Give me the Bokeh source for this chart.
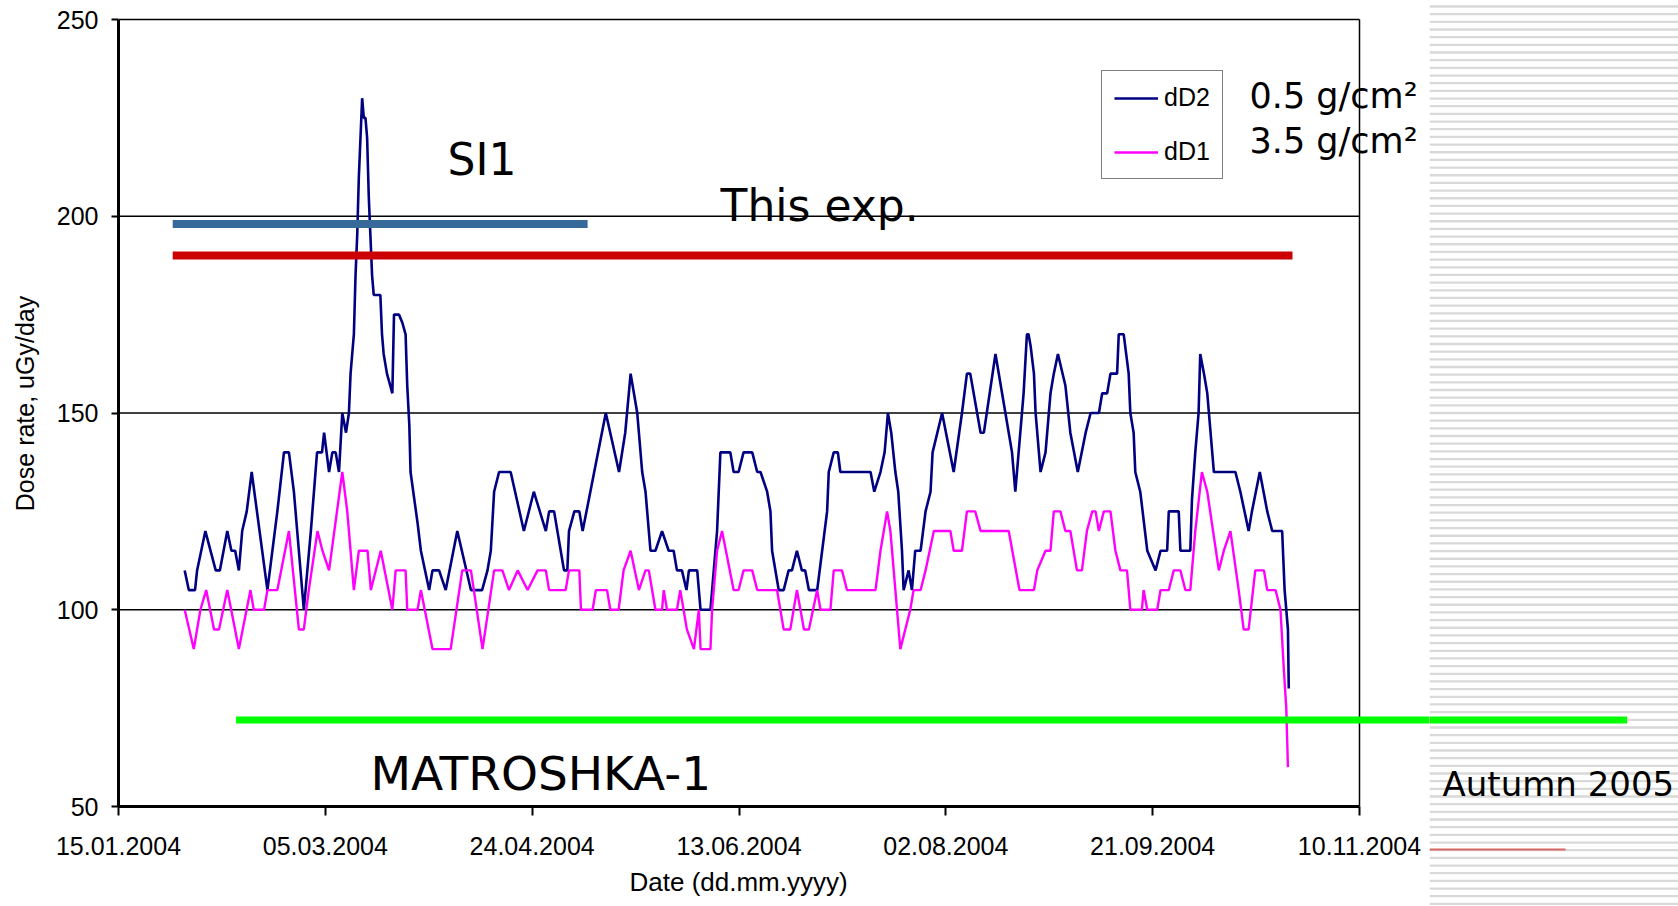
from bokeh.plotting import figure
from bokeh.layouts import row
from bokeh.models import (Range1d, FixedTicker, Legend, LegendItem, Label, Title)
from bokeh.embed import file_html
from bokeh.resources import INLINE

# ---------------- data ----------------
# x = days since 15.01.2004
x_tick_days = [0, 50, 100, 150, 200, 250, 300]
x_tick_labels = ["15.01.2004", "05.03.2004", "24.04.2004", "13.06.2004",
                 "02.08.2004", "21.09.2004", "10.11.2004"]
y_ticks = [50, 100, 150, 200, 250]
grid_levels = [100, 150, 200, 250]

dD2_day = [16, 17, 18.5, 19, 21, 23.5, 24.5, 26.3, 27.3, 28.2, 29.1, 29.9, 31, 32.2,
           36, 38.4, 40, 41.2, 42.4, 44.8, 46.5, 48, 49.2, 49.7, 50.9, 51.7, 52.5,
           53.3, 54.1, 55, 55.7, 56.1, 56.5, 56.9, 57.3, 57.7, 58.1, 58.5, 58.9,
           59.3, 59.7, 60.1, 60.5, 60.9, 61.3, 61.7, 63.3, 63.7, 64.1, 64.9, 66.2,
           66.6, 67.8, 68.6, 69.4, 69.8, 70.3, 70.6, 72.3, 73.1, 75.1, 75.9, 77.5,
           79.1, 81.9, 85.2, 86.3, 87.9, 89.2, 90.0, 90.8, 92.0, 94.8, 98.0, 100.4,
           103.3, 104.1, 105.3, 106.9, 107.7, 108.5, 108.9, 110.2, 111.4, 112.2,
           115.0, 117.8, 121.0, 122.5, 123.8, 124.6, 125.4, 126.6, 127.4, 128.6,
           129.8, 131.4, 133, 134.2, 135, 136.2, 137.3, 137.9, 139.9, 140.7, 143.1,
           144.7, 145.5, 147.9, 148.7, 149.9, 151.1, 153.2, 154.4, 155.2, 156.8,
           157.6, 158, 159.6, 160.8, 162, 162.8, 164, 165.2, 166, 166.9, 168.9,
           170.1, 171.3, 171.7, 172.9, 173.9, 174.5, 181.8, 182.7, 184.2, 185.2,
           186, 186.8, 187.8, 188.5, 189.4, 189.8, 191, 191.8, 192.6, 193.9, 195.1,
           196.3, 196.8, 199.1, 201.9, 203.9, 205.1, 205.9, 208.4, 209.2, 212,
           214.4, 216, 216.8, 217.6, 218.8, 219.6, 220, 220.5, 221.3, 221.7, 222.9,
           224.1, 225.3, 226.1, 227.1, 228.9, 230.1, 231.9, 233.8, 235, 237, 237.8,
           239, 239.8, 241.4, 241.8, 243, 244.2, 244.6, 245.4, 245.8, 247, 248.7,
           250.7, 251.9, 253.5, 253.9, 256.3, 256.7, 259.1, 259.5, 260.3, 261.1,
           261.5, 262.4, 263.2, 264.8, 270, 271.2, 273.2, 274, 275.9, 277.7, 278.9,
           281.3, 281.9, 282.7, 282.9]
dD2_val = [110, 105, 105, 110, 120, 110, 110, 120, 115, 115, 110, 120, 125, 135,
           105, 125, 140, 140, 130, 100, 120, 140, 140, 145, 135, 140, 140,
           135, 150, 145, 150, 160, 165, 170, 185, 195, 210, 220, 230,
           225, 225, 220, 205, 195, 185, 180, 180, 170, 165, 160, 155,
           175, 175, 173, 170, 157, 147, 135, 122, 115, 105, 110, 110,
           105, 120, 105, 105, 105, 110, 115, 130, 135, 135, 120, 130,
           120, 125, 125, 115, 110, 110, 120, 125, 125, 120,
           135, 150, 135, 145, 160, 155, 150, 135, 130, 115,
           115, 120, 115, 115, 110, 110, 105, 110, 110, 100, 100,
           120, 140, 140, 135, 135, 140, 140, 135, 135, 130,
           125, 115, 105, 105, 110, 110, 115, 110, 110, 105, 105,
           115, 125, 135, 140, 140, 135, 135, 130, 135, 140,
           150, 145, 135, 130, 115, 105, 110, 105, 115, 115, 125,
           130, 140, 150, 135, 150, 160, 160, 145, 145, 165,
           150, 140, 130, 140, 155, 170, 170, 167, 160, 150, 135,
           140, 155, 160, 165, 157, 145, 135, 145, 150, 150, 155,
           155, 160, 160, 170, 170, 160, 150, 145, 135, 130, 115,
           110, 115, 115, 125, 125, 115, 115, 128, 140, 150,
           165, 160, 155, 135, 135, 130, 120, 125, 135, 125, 120,
           120, 105, 95, 80]

dD1_day = [16, 18.2, 19.8, 21.2, 23.1, 24.3, 26.3, 29.1, 31.9, 32.7, 35.2, 36, 38.4,
           41.2, 43.6, 44.8, 46, 48.1, 49.3, 50.9, 54.1, 55.3, 56.9, 58.1, 60.2, 61,
           63.4, 66.2, 67, 69.4, 69.8, 72.3, 73.1, 75.9, 80.3, 83.1, 85.2, 88, 90.8,
           92.8, 94.4, 96.5, 98.9, 101.3, 103.3, 104.1, 108.1, 108.9, 111.4, 111.8,
           114.6, 115.4, 118.1, 118.9, 120.9, 122.1, 123.8, 125.8, 127.4, 128.2,
           129.8, 131.4, 131.8, 132.6, 135, 135.8, 136.6, 137.4, 139.1, 140.3, 140.7,
           143.1, 143.5, 144.7, 145.9, 148.7, 149.9, 151.1, 153.2, 154.4, 159.2,
           160.8, 162.4, 164, 165.7, 166.9, 168.9, 169.7, 172.1, 172.9, 174.9, 176.1,
           183, 184.2, 185.8, 186.6, 189, 191.4, 192.2, 193.9, 195.1, 197.1, 201.1,
           201.9, 203.9, 205.1, 207.1, 208.4, 215.2, 217.8, 221.3, 222.1, 224.1,
           225.3, 226.1, 227.7, 228.9, 230.1, 231.7, 232.9, 234.1, 235.4, 236.2, 237,
           238.2, 239.8, 241, 242.2, 243.8, 244.6, 247.4, 247.8, 248.7, 251.1, 251.9,
           253.9, 255.1, 256.7, 257.9, 259.1, 260.3, 261.9, 263.2, 266, 267.2, 268.8,
           270.8, 272, 273.2, 274.8, 276.9, 277.7, 279.7, 280.9, 281.7, 282.3, 282.7]
dD1_val = [100, 90, 100, 105, 95, 95, 105, 90, 105, 100, 100, 105, 105,
           120, 95, 95, 105, 120, 115, 110, 135, 125, 105, 115, 115, 105,
           115, 100, 110, 110, 100, 100, 105, 90, 90, 110, 110, 90, 110,
           110, 105, 110, 105, 110, 110, 105, 105, 110, 110, 100,
           100, 105, 105, 100, 100, 110, 115, 105, 110, 110,
           100, 100, 105, 100, 100, 105, 100, 95, 90, 100, 90,
           90, 100, 115, 120, 105, 105, 110, 110, 105, 105,
           95, 95, 105, 95, 95, 105, 100, 100, 110, 110, 105,
           105, 115, 125, 120, 90, 100, 105, 105, 110, 120, 120,
           115, 115, 125, 125, 120, 120, 105, 105, 110, 115,
           115, 125, 125, 120, 120, 110, 110, 120, 125, 125, 120,
           125, 125, 115, 110, 110, 100, 100, 105, 100, 100, 105,
           105, 110, 110, 105, 105, 120, 135, 130, 110, 115, 120,
           105, 95, 95, 110, 110, 105, 105, 100, 85, 75, 60]

# reference levels drawn over the chart
ref_names = ["SI1", "This exp.", "MATROSHKA-1"]
ref_level = [198, 190, 72]
ref_start = [13.1, 13.1, 28.4]
ref_end = [113.4, 283.8, 364.7]

# ---------------- layout ----------------
W, H = 1678, 906
FL, FR, FT, FB = 118, 1359, 19, 806     # plot box of the chart
SPLIT = 1429                             # start of the striped slide panel
XPX = (FR - FL) / 300.0
YPX = (FB - FT) / 200.0


def dx(px):
    return (px - FL) / XPX


def dy(py):
    return 250.0 - (py - FT) / YPX


TICK_FONT = "Liberation Sans"
COMIC = "DejaVu Sans"

p = figure(width=SPLIT, height=H, x_range=Range1d(0, dx(SPLIT)),
           y_range=Range1d(50, dy(0)),
           output_backend="svg", toolbar_location=None,
           min_border_left=FL, min_border_right=0,
           min_border_top=0, min_border_bottom=H - FB)
p.background_fill_color = "white"
p.border_fill_color = "white"
p.outline_line_color = None

p.xaxis.ticker = FixedTicker(ticks=x_tick_days)
p.xaxis.major_label_overrides = {d: s for d, s in zip(x_tick_days, x_tick_labels)}
p.yaxis.ticker = FixedTicker(ticks=y_ticks)
p.xaxis.bounds = (x_tick_days[0], x_tick_days[-1])
p.yaxis.bounds = (y_ticks[0], y_ticks[-1])
for ax in (p.xaxis[0], p.yaxis[0]):
    ax.axis_line_width = 3
    ax.axis_line_color = "black"
    ax.major_tick_line_width = 2
    ax.major_tick_line_color = "black"
    ax.major_tick_in = 0
    ax.minor_tick_line_color = None
    ax.major_label_text_font = TICK_FONT
    ax.major_label_text_font_size = "25px"
    ax.major_label_text_color = "black"
    ax.axis_label_text_font = TICK_FONT
    ax.axis_label_text_font_size = "25px"
    ax.axis_label_text_font_style = "normal"
    ax.axis_label_text_color = "black"
p.xaxis.major_tick_out = 9
p.yaxis.major_tick_out = 7
p.xaxis.major_label_standoff = 21
p.yaxis.major_label_standoff = 13
p.yaxis.axis_label = "Dose rate, uGy/day"
p.yaxis.axis_label_standoff = 15

# x axis title centred under the plot box
p.add_layout(Title(text="Date (dd.mm.yyyy)", align="left", offset=629 - FL,
                   text_font=TICK_FONT, text_font_size="26px",
                   text_font_style="normal", text_color="black",
                   standoff=14, vertical_align="bottom"), "below")

p.grid.visible = False
# horizontal grid / top border and right border of the plot box
p.segment(x0=[x_tick_days[0]] * len(grid_levels), y0=grid_levels,
          x1=[x_tick_days[-1]] * len(grid_levels), y1=grid_levels,
          line_color="black", line_width=1.3)
p.segment(x0=[x_tick_days[-1]], y0=[y_ticks[0]], x1=[x_tick_days[-1]], y1=[y_ticks[-1]],
          line_color="black", line_width=1.5)

r2 = p.line(dD2_day, dD2_val, line_color="#000080", line_width=2.6)
r1 = p.line(dD1_day, dD1_val, line_color="#ff00ff", line_width=2.4)

ref_colors = ["#376a9b", "#cc0000", "#00ff00"]
ref_widths = [8, 8, 7]
p.segment(x0=ref_start, y0=ref_level, x1=ref_end, y1=ref_level,
          line_color=ref_colors, line_width=ref_widths, line_cap="butt")

legend = Legend(items=[LegendItem(label="dD2", renderers=[r2]),
                       LegendItem(label="dD1", renderers=[r1])],
                location=(1101 - FL, FB - 179), orientation="vertical",
                border_line_color="black", border_line_width=1.5,
                background_fill_color="white", background_fill_alpha=1.0,
                label_text_font=TICK_FONT, label_text_font_size="25px",
                label_text_color="black",
                glyph_width=44, glyph_height=28, label_height=28,
                spacing=25, padding=12, label_standoff=6, margin=0)
p.add_layout(legend)


def add_text(fig, t, px, py, fs):
    # baseline correction for bokeh text box placement
    fig.add_layout(Label(x=dx(px), y=dy(py - 0.41 * fs), text=t, text_font=COMIC,
                         text_font_size=f"{fs}px", text_baseline="alphabetic",
                         text_align="left", text_color="black"))


add_text(p, "SI1", 447, 177, 44)
add_text(p, "This exp.", 720, 223, 44)
add_text(p, "MATROSHKA-1", 370, 792, 47)
add_text(p, "0.5 g/cm\u00b2", 1249, 110, 35)
add_text(p, "3.5 g/cm\u00b2", 1249, 155, 35)

# ---------------- striped slide panel on the right ----------------
side = figure(width=W - SPLIT, height=H, x_range=Range1d(dx(SPLIT), dx(W)),
              y_range=Range1d(dy(H), dy(0)), output_backend="svg",
              toolbar_location=None, x_axis_location=None, y_axis_location=None,
              min_border=0)
side.outline_line_color = None
side.grid.visible = False
side.background_fill_color = "white"
side.border_fill_color = "white"
for f in (p, side):
    if "frame_align" in f.properties():
        f.frame_align = False

stripe_y = []
yy = 6.0
while yy < H:
    stripe_y.append(dy(yy))
    yy += 7.67
side.segment(x0=[dx(SPLIT)] * len(stripe_y), y0=stripe_y,
             x1=[dx(W)] * len(stripe_y), y1=stripe_y,
             line_color="#d9d9d9", line_width=2.3)
side.segment(x0=[dx(SPLIT)], y0=[dy(849)], x1=[dx(1565)], y1=[dy(849)],
             line_color="#d96666", line_width=2)
# MATROSHKA-1 level continues over the slide panel
side.segment(x0=ref_start, y0=ref_level, x1=ref_end, y1=ref_level,
             line_color=ref_colors, line_width=ref_widths, line_cap="butt")
add_text(side, "Autumn 2005", 1442, 797, 34)

layout = row(p, side, spacing=0)
open("out.html", "w").write(file_html(layout, INLINE))
